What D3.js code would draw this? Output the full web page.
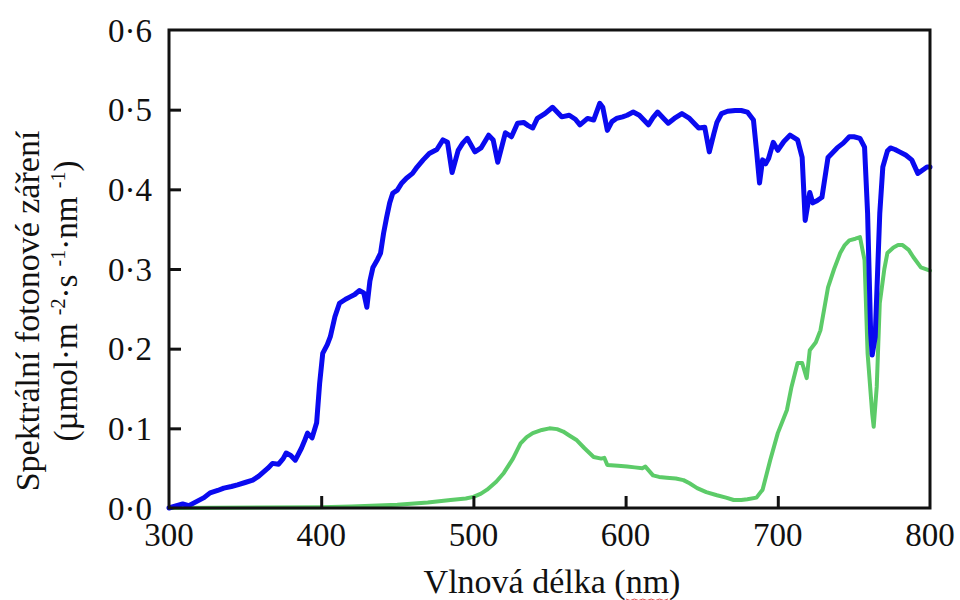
<!DOCTYPE html>
<html>
<head>
<meta charset="utf-8">
<script src="https://cdn.jsdelivr.net/npm/d3@7"></script>
<style>
  html, body { margin: 0; padding: 0; background: #fff; }
  svg text { font-family: "Liberation Serif", "Times New Roman", serif; fill: #111; }
</style>
</head>
<body>
<svg id="chart" width="960" height="600"></svg>
<script>
// ---- data ----
const blueWl  = [300,305,309,313,318,323,327,332,336,341,345,350,355,359,362,365,368,372,375,377,380,383,387,389,391,394,397,399,401,404,406,409,412,416,419,422,425,428,430,432,434,437,439,441,443,445,447,450,453,456,460,463,467,471,476,480,483,486,490,493,496,501,505,510,513,516,521,525,529,533,536,539,542,547,552,555,558,563,567,570,575,579,583,585,588,591,594,598,601,605,609,612,615,618,621,625,628,632,637,642,645,648,652,655,658,660,663,667,672,676,680,684,686,688,690,692,694,697,700,704,708,713,716,718,721,723,726,729,733,736,739,743,747,750,754,757,759,761,762,764,767,769,772,774,777,780,784,788,792,795,798,800];
const blueVal = [0.000,0.003,0.005,0.003,0.008,0.013,0.019,0.022,0.025,0.027,0.029,0.032,0.035,0.040,0.045,0.050,0.056,0.055,0.062,0.069,0.066,0.060,0.075,0.084,0.094,0.088,0.107,0.157,0.194,0.205,0.215,0.240,0.257,0.262,0.265,0.268,0.273,0.270,0.252,0.285,0.302,0.312,0.320,0.345,0.365,0.383,0.395,0.399,0.408,0.414,0.420,0.428,0.437,0.445,0.450,0.462,0.459,0.421,0.449,0.458,0.464,0.447,0.452,0.468,0.462,0.434,0.471,0.466,0.483,0.484,0.480,0.477,0.489,0.495,0.503,0.497,0.491,0.493,0.488,0.481,0.489,0.487,0.508,0.503,0.474,0.485,0.489,0.491,0.493,0.497,0.493,0.487,0.481,0.490,0.497,0.489,0.483,0.489,0.495,0.489,0.483,0.477,0.478,0.447,0.470,0.484,0.495,0.498,0.499,0.499,0.497,0.487,0.449,0.408,0.437,0.432,0.439,0.459,0.449,0.460,0.468,0.462,0.440,0.361,0.396,0.383,0.386,0.390,0.440,0.446,0.452,0.458,0.466,0.466,0.464,0.453,0.370,0.220,0.192,0.215,0.370,0.428,0.448,0.452,0.450,0.447,0.443,0.437,0.420,0.424,0.428,0.428];

const greenWl  = [300,400,420,450,470,485,495,500,505,509,515,520,526,531,535,539,545,550,555,559,563,568,573,579,584,586,588,595,601,606,611,613,618,622,627,633,638,642,647,653,660,666,671,676,680,686,690,695,700,706,709,713,716,719,721,725,728,733,737,741,744,747,751,754,757,759,762,763,765,767,770,772,776,779,782,786,789,794,800];
const greenVal = [0.000,0.001,0.002,0.004,0.007,0.010,0.012,0.014,0.018,0.023,0.033,0.044,0.062,0.081,0.089,0.094,0.098,0.100,0.099,0.096,0.091,0.085,0.075,0.064,0.062,0.063,0.054,0.053,0.052,0.051,0.050,0.052,0.041,0.039,0.038,0.037,0.035,0.031,0.025,0.020,0.016,0.013,0.010,0.010,0.011,0.013,0.023,0.060,0.094,0.123,0.152,0.182,0.182,0.163,0.198,0.208,0.223,0.277,0.300,0.320,0.330,0.336,0.338,0.340,0.311,0.194,0.119,0.102,0.152,0.257,0.300,0.320,0.327,0.330,0.330,0.324,0.315,0.302,0.298];

const xTicks = [300,400,500,600,700,800];
const yTicks = [0,0.1,0.2,0.3,0.4,0.5,0.6];
const xTitle = "Vlnová délka (nm)";
const yTitle1 = "Spektrální fotonové záření";

// ---- layout ----
const svg = d3.select("#chart");
const x = d3.scaleLinear().domain([300,800]).range([169,930]);
const y = d3.scaleLinear().domain([0,0.6]).range([508,30]);

const fmtY = v => d3.format(".1f")(v).replace(".", "·");

// curves
const line = d3.line().x(d => x(d[0])).y(d => y(d[1]));
const green = greenWl.map((w,i) => [w, greenVal[i]]);
const blue = blueWl.map((w,i) => [w, blueVal[i]]);

svg.append("path").datum(green).attr("d", line)
  .attr("fill","none").attr("stroke","#5ccb68").attr("stroke-width",4)
  .attr("stroke-linejoin","round").attr("stroke-linecap","round");
svg.append("path").datum(blue).attr("d", line)
  .attr("fill","none").attr("stroke","#0a0af0").attr("stroke-width",5)
  .attr("stroke-linejoin","round").attr("stroke-linecap","round");

// frame
svg.append("rect")
  .attr("x", x(300)).attr("y", y(0.6))
  .attr("width", x(800)-x(300)).attr("height", y(0)-y(0.6))
  .attr("fill","none").attr("stroke","#111").attr("stroke-width",3);

// axes with inward ticks
const xAxis = d3.axisBottom(x).tickValues(xTicks.slice(1,-1)).tickSize(-12).tickFormat("");
const gx = svg.append("g").attr("transform", `translate(0,${y(0)})`).call(xAxis);
gx.select(".domain").remove();
gx.selectAll("line").attr("stroke","#111").attr("stroke-width",3);

const yAxis = d3.axisLeft(y).tickValues(yTicks.slice(1,-1)).tickSize(-12).tickFormat("");
const gy = svg.append("g").attr("transform", `translate(${x(300)},0)`).call(yAxis);
gy.select(".domain").remove();
gy.selectAll("line").attr("stroke","#111").attr("stroke-width",3);

// tick labels
svg.append("g").selectAll("text").data(yTicks).join("text")
  .attr("x", 152).attr("y", d => y(d)).attr("dy","0.35em")
  .attr("text-anchor","end").attr("font-size",33)
  .text(fmtY);

svg.append("g").selectAll("text").data(xTicks).join("text")
  .attr("x", d => x(d)).attr("y", 546)
  .attr("text-anchor","middle").attr("font-size",33)
  .text(d => d);

// axis titles
svg.append("text").attr("x", 552).attr("y", 593)
  .attr("text-anchor","middle").attr("font-size",34)
  .text(xTitle);

// red spell-check squiggle under "nm"
const sq = d3.range(0, 11).map(i => [626 + i*4.2, 599 + (i%2 ? 1.5 : 0)]);
svg.append("path").attr("d", d3.line()(sq)).attr("fill","none")
  .attr("stroke","#e05050").attr("stroke-width",1);

const yt = svg.append("g");
yt.append("text").attr("transform","translate(39,311) rotate(-90)")
  .attr("text-anchor","middle").attr("font-size",34).text(yTitle1);
const t2 = yt.append("text").attr("transform","translate(77,301) rotate(-90)")
  .attr("text-anchor","middle").attr("font-size",33);
t2.append("tspan").text("(µmol·m ");
t2.append("tspan").attr("font-size",20).attr("dy",-12).text("-2");
t2.append("tspan").attr("dy",12).text("·s ");
t2.append("tspan").attr("font-size",20).attr("dy",-12).text("-1");
t2.append("tspan").attr("dy",12).text("·nm ");
t2.append("tspan").attr("font-size",20).attr("dy",-12).text("-1");
t2.append("tspan").attr("dy",12).text(")");
</script>
</body>
</html>
